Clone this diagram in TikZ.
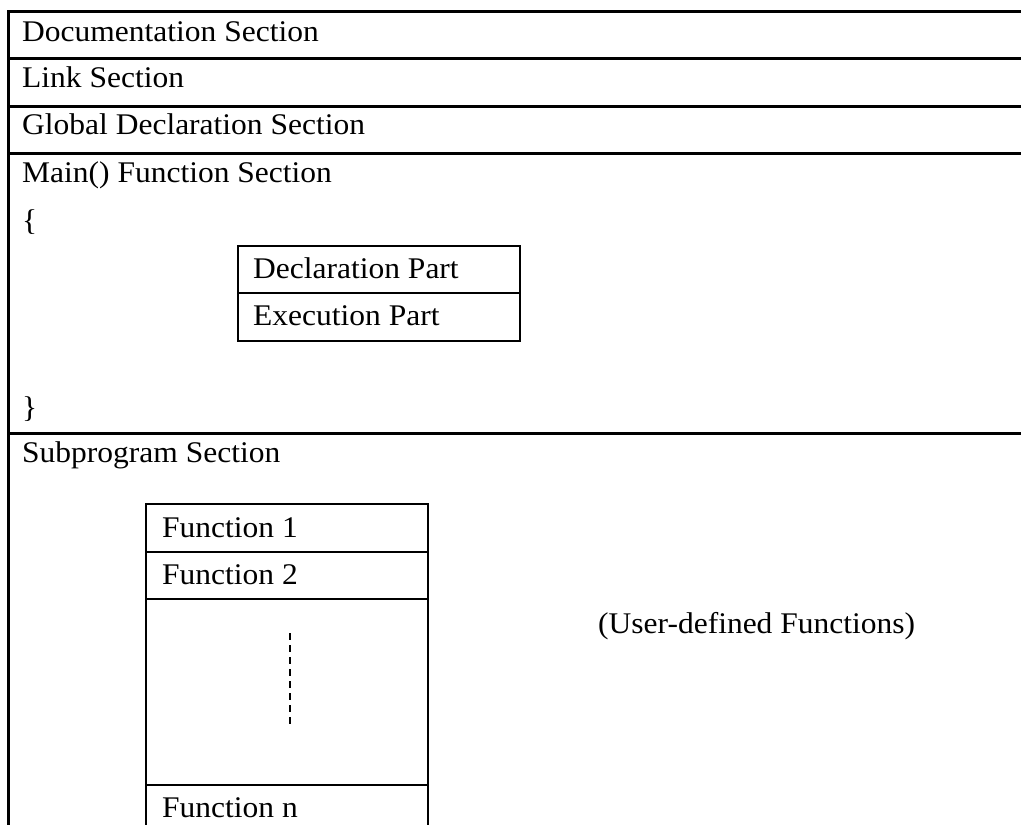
\documentclass[tikz,border=0pt]{standalone}
\usepackage{fontspec}
\setmainfont[FakeStretch=1.05]{Liberation Serif}
\begin{document}
\begin{tikzpicture}[x=1pt,y=-1pt,
  outer/.style={line width=3pt},
  inner/.style={line width=2.4pt},
  lbl/.style={anchor=base west,inner sep=0pt,font=\fontsize{30}{34}\selectfont}]
\useasboundingbox (0,0) rectangle (1021,825);
% outer frame
\draw[outer] (8,825) -- (8,11) -- (1021,11);
\draw[outer] (8,58) -- (1021,58);
\draw[outer] (8,106) -- (1021,106);
\draw[outer] (8,153) -- (1021,153);
\draw[outer] (8,433) -- (1021,433);
% texts
\node[lbl] (doc) at (22,41) {Documentation Section};
\node[lbl] (link) at (22,87) {Link Section};
\node[lbl] (glob) at (22,134) {Global Declaration Section};
\node[lbl] (main) at (22,182) {Main() Function Section};
\node[lbl] (ob) at (22,230) {\{};
\node[lbl] (cb) at (22,417) {\}};
\node[lbl] (sub) at (22,462) {Subprogram Section};
% main box
\draw[inner] (238,246) rectangle (520,341);
\draw[inner] (238,293) -- (520,293);
\node[lbl] (decl) at (253,278) {Declaration Part};
\node[lbl] (exec) at (253,325) {Execution Part};
% function box
\draw[inner] (146,825) -- (146,504) -- (428,504) -- (428,825);
\draw[inner] (146,552) -- (428,552);
\draw[inner] (146,599) -- (428,599);
\draw[inner] (146,785) -- (428,785);
\draw[line width=1.5pt,dash pattern=on 7pt off 5pt] (290,633) -- (290,725);
\node[lbl] (f1) at (162,537) {Function 1};
\node[lbl] (f2) at (162,584) {Function 2};
\node[lbl] (fn) at (162,817) {Function n};
\node[lbl] (udf) at (598,633) {(User-defined Functions)};
\end{tikzpicture}
\end{document}
